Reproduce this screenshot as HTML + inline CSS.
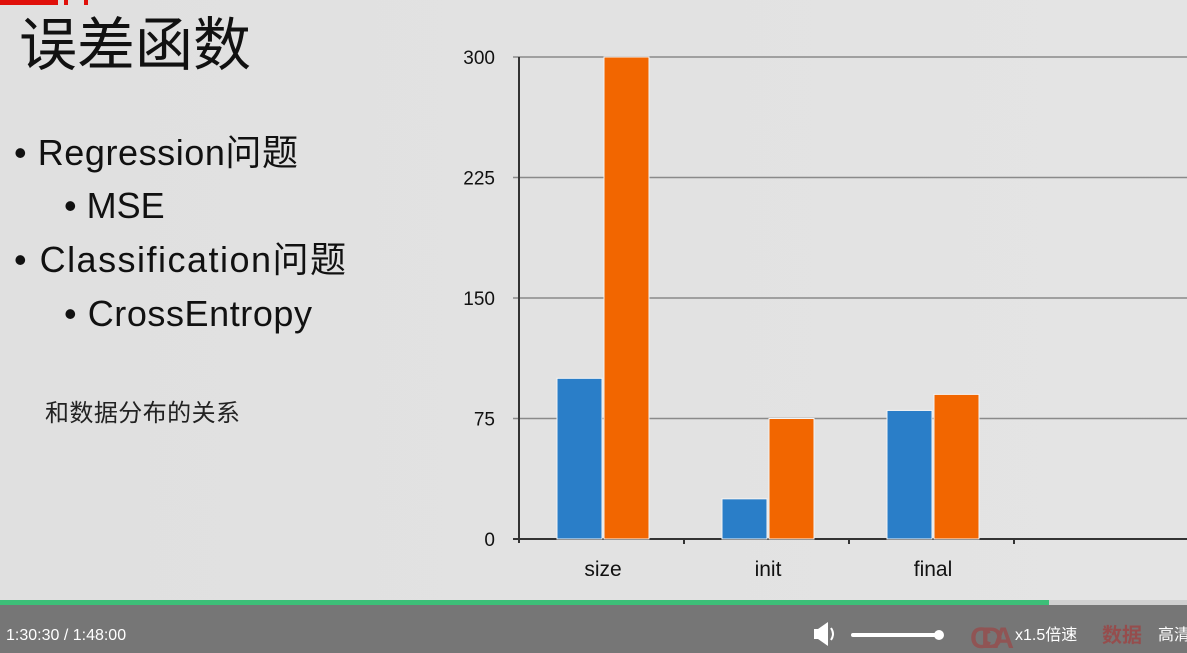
<!DOCTYPE html>
<html><head><meta charset="utf-8"><style>
html,body{margin:0;padding:0;width:1187px;height:653px;overflow:hidden;background:#e3e3e3;}
svg{display:block;font-family:"Liberation Sans","Noto Sans CJK SC",sans-serif;}
</style></head><body>
<svg id="c" width="1187" height="653">
<defs><linearGradient id="bg" x1="0" y1="0" x2="1" y2="0"><stop offset="0" stop-color="#e0e0e0"/><stop offset="1" stop-color="#e4e4e4"/></linearGradient></defs>
<rect width="1187" height="600" fill="url(#bg)"/>
<rect x="0" y="0" width="58" height="5" fill="#e0100a"/>
<rect x="64" y="0" width="4" height="5" fill="#e0100a"/><rect x="84" y="0" width="4" height="5" fill="#e0100a"/>
<text x="19" y="65" font-size="58" fill="#111" font-family="'Noto Sans CJK SC',sans-serif">误差函数</text>
<g fill="#111" font-size="36">
<text x="14" y="165" textLength="284">• Regression问题</text>
<text x="64" y="218">• MSE</text>
<text x="14" y="272" textLength="332">• Classification问题</text>
<text x="64" y="326" textLength="248">• CrossEntropy</text>
</g>
<text x="45" y="421" font-size="24" fill="#222" textLength="195">和数据分布的关系</text>
<g id="chart"></g>
<rect x="0" y="600" width="1049" height="5" fill="#3dbf78"/>
<rect x="1049" y="600" width="138" height="5" fill="#d0d0d0"/>
<rect x="0" y="605" width="1187" height="48" fill="#767676"/>
<text x="6" y="640" font-size="16" fill="#fff">1:30:30 / 1:48:00</text>
<g><rect x="814" y="629" width="6" height="10" fill="#fff"/><polygon points="818,629 828,622 828,646 818,639" fill="#fff"/><path d="M831 628 q4 6 0 12" stroke="#fff" stroke-width="2" fill="none"/></g>
<rect x="851" y="633" width="88" height="4" rx="2" fill="#fff"/>
<circle cx="939" cy="635" r="5" fill="#fff"/>
<text x="970" y="648" font-size="30" font-weight="bold" fill="#a33" opacity="0.5" textLength="44">CDA</text>
<text x="1015" y="640" font-size="16" fill="#fff">x1.5倍速</text>
<text x="1102" y="642" font-size="20" font-weight="bold" fill="#a33" opacity="0.6">数据</text>
<text x="1158" y="640" font-size="16" fill="#fff">高清</text>
</svg>
<script>
const categories=["size","init","final"];
const seriesBlue=[100,25,80];
const seriesOrange=[300,75,90];
const yTicks=[0,75,150,225,300];
const NS="http://www.w3.org/2000/svg";
const g=document.getElementById('chart');
const x0=519,step=165,yBase=539,yTop=57,yMax=300;
const y=v=>yBase-(yBase-yTop)*v/yMax;
function mk(t,a){const e=document.createElementNS(NS,t);for(const k in a)e.setAttribute(k,a[k]);g.appendChild(e);return e;}
yTicks.forEach(t=>{
  const l=mk('line',{x1:513,x2:1187,y1:y(t),y2:y(t),stroke:t===0?'#333':'#8a8a8a','stroke-width':t===0?2:1.5});
  
  
  const tx=mk('text',{x:495,y:y(t)+7,'text-anchor':'end','font-size':19,fill:'#111'});
  tx.textContent=t;
  
  
});
const ax=mk('line',{x1:x0,x2:x0,y1:yTop,y2:yBase+4,stroke:'#333','stroke-width':2});


for(let i=1;i<=categories.length;i++){mk('line',{x1:x0+i*step,x2:x0+i*step,y1:yBase,y2:yBase+5,stroke:'#333','stroke-width':2});}
categories.forEach((c,i)=>{
  const gx=x0+i*step;
  const b=mk('rect',{x:gx+38,y:y(seriesBlue[i]),width:45,height:yBase-y(seriesBlue[i]),fill:'#2a7ec8',stroke:'#f4f4f4','stroke-width':1});
  
  
  const o=mk('rect',{x:gx+85,y:y(seriesOrange[i]),width:45,height:yBase-y(seriesOrange[i]),fill:'#f26600',stroke:'#f4f4f4','stroke-width':1});
  
  
  const t=mk('text',{x:gx+84,y:576,'text-anchor':'middle','font-size':21,fill:'#111'});
  t.textContent=c;
  
  
});
</script>
</body></html>
